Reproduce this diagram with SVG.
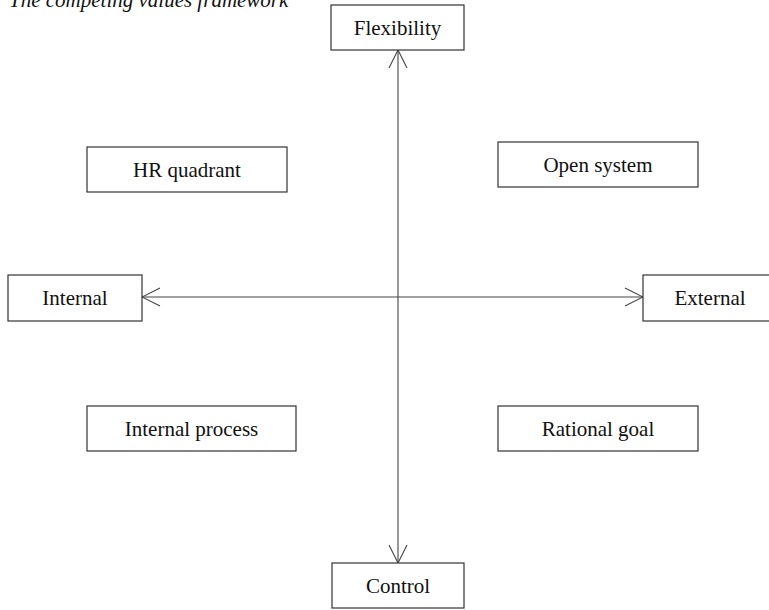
<svg xmlns="http://www.w3.org/2000/svg" width="769" height="610" viewBox="0 0 769 610">
<style>
.box{fill:#fff;stroke:#333;stroke-width:1.2}
.lbl{font-family:"Liberation Serif","Times New Roman",serif;font-size:21px;fill:#111;text-anchor:middle}
.title{font-family:"Liberation Serif","Times New Roman",serif;font-size:21px;font-style:italic;fill:#111}
.conn{stroke:#444;stroke-width:1.1;fill:none}
</style>
<defs>
<marker id="arr" viewBox="-1 -1 20 20" refX="18" refY="9" markerWidth="20" markerHeight="20" markerUnits="userSpaceOnUse" orient="auto-start-reverse">
<path d="M0,0 L18,9 L0,18" fill="none" stroke="#444" stroke-width="1.1"/>
</marker>
</defs>
<rect width="769" height="610" fill="#fff"/>
<text class="title" x="9" y="7">The competing values framework</text>
<g id="connectors">
<line class="conn" x1="398" y1="50" x2="398" y2="563" marker-start="url(#arr)" marker-end="url(#arr)"/>
<line class="conn" x1="142" y1="297" x2="643" y2="297" marker-start="url(#arr)" marker-end="url(#arr)"/>
</g>
<g id="flexibility"><rect class="box" x="331" y="5" width="133" height="45"/><text class="lbl" x="397.5" y="35">Flexibility</text></g>
<g id="control"><rect class="box" x="332" y="563" width="132" height="45"/><text class="lbl" x="398" y="593">Control</text></g>
<g id="internal"><rect class="box" x="8" y="275" width="134" height="46"/><text class="lbl" x="75" y="305">Internal</text></g>
<g id="external"><rect class="box" x="643" y="275" width="134" height="46"/><text class="lbl" x="710" y="305">External</text></g>
<g id="hr-quadrant"><rect class="box" x="87" y="147" width="200" height="45"/><text class="lbl" x="187" y="177">HR quadrant</text></g>
<g id="open-system"><rect class="box" x="498" y="142" width="200" height="45"/><text class="lbl" x="598" y="172">Open system</text></g>
<g id="internal-process"><rect class="box" x="87" y="406" width="209" height="45"/><text class="lbl" x="191.5" y="436">Internal process</text></g>
<g id="rational-goal"><rect class="box" x="498" y="406" width="200" height="45"/><text class="lbl" x="598" y="436">Rational goal</text></g>
</svg>
